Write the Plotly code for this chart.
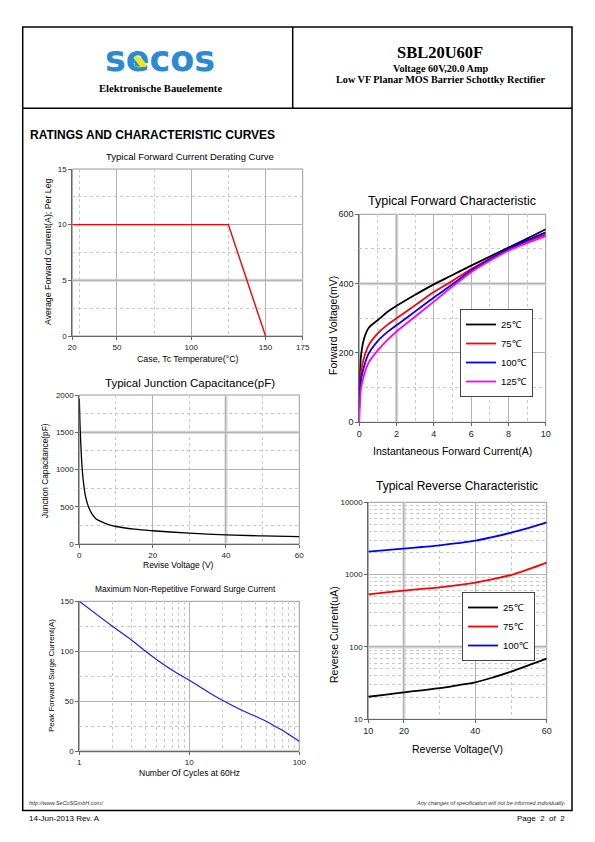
import plotly.graph_objects as go

# page is 595x842; the browser body adds an 8px margin, so the figure is drawn 8px in
OFF = 8
W, H = 595 - OFF, 842 - OFF

# ---------------- data ----------------
derate_temp = [20, 125, 150]
derate_current = [10, 10, 0]

cap_voltage = [0, 0.2, 0.5, 0.8, 1.2, 1.7, 2.5, 3.5, 4.5, 6, 8, 10, 15, 20, 30, 40, 50, 60]
cap_pf = [1950, 1600, 1250, 1000, 800, 640, 500, 400, 340, 300, 260, 235, 200, 178, 145, 122, 108, 98]

surge_cycles = [1, 2, 3, 4, 5, 7, 10, 15, 20, 30, 40, 50, 60, 70, 80, 100]
surge_amps = [150, 125, 111, 100, 92, 81, 71, 59, 51, 41, 35, 30, 25, 21, 17, 10]

fwd_current = [0, 0.05, 0.1, 0.25, 0.5, 1, 1.5, 2, 3, 4, 5, 6, 7, 8, 9, 10]
vf_25 = [90, 160, 195, 240, 272, 295, 318, 336, 368, 398, 425, 452, 478, 504, 530, 557]
vf_75 = [60, 120, 150, 185, 222, 257, 281, 300, 338, 376, 408, 442, 472, 500, 522, 542]
vf_100 = [40, 100, 125, 160, 198, 235, 260, 280, 320, 360, 398, 438, 470, 500, 525, 548]
vf_125 = [0, 75, 100, 135, 172, 208, 237, 262, 305, 348, 392, 433, 466, 495, 517, 537]
fwd_labels = ["25℃", "75℃", "100℃", "125℃"]

rev_voltage = [10, 15, 20, 25, 30, 35, 40, 45, 50, 55, 60]
ir_25 = [20.5, 22, 23.6, 25.2, 26.9, 29.5, 32.5, 38, 45.6, 56, 69]
ir_75 = [535, 568, 601, 634, 668, 715, 775, 870, 988, 1190, 1466]
ir_100 = [2080, 2180, 2290, 2410, 2543, 2720, 2950, 3330, 3800, 4420, 5260]
rev_labels = ["25℃", "75℃", "100℃"]

# ---------------- helpers ----------------
FONT = "Liberation Sans, Arial, sans-serif"
NARROW = "Liberation Sans Narrow, Liberation Sans, Arial, sans-serif"
SERIF = "Liberation Serif, Times New Roman, serif"


def px(x):
    return (x - OFF) / W


def py(y):
    return 1 - (y - OFF) / H


def axis(d0, d1, anchor, tickvals, minorvals, rng, vertical=False, type_="linear", ticktext=None, fs=8):
    if vertical:
        domain = [py(d1), py(d0)]
    else:
        domain = [px(d0), px(d1)]
    a = dict(domain=domain, anchor=anchor, type=type_, range=rng, automargin=False,
             showline=True, linecolor="#666", linewidth=1,
             ticks="outside", ticklen=3, tickcolor="#666",
             tickfont=dict(size=fs, family=FONT, color="#222"),
             tickmode="array", tickvals=tickvals,
             showgrid=True, gridcolor="#b4b4b4", gridwidth=0.8, zeroline=False,
             minor=dict(tickmode="array", tickvals=minorvals, showgrid=True,
                        gridcolor="#c8c8c8", griddash="3px,3px", gridwidth=0.8, ticks=""))
    if ticktext is not None:
        a["ticktext"] = ticktext
    return a


fig = go.Figure()

# chart 1 - derating
fig.add_trace(go.Scatter(x=derate_temp, y=derate_current, mode="lines",
                         line=dict(color="#ff0000", width=1.4), xaxis="x", yaxis="y", showlegend=False))
# chart 2 - capacitance
fig.add_trace(go.Scatter(x=cap_voltage, y=cap_pf, mode="lines", line_shape="spline",
                         line=dict(color="#000000", width=1.3), xaxis="x2", yaxis="y2", showlegend=False))
# chart 3 - surge
fig.add_trace(go.Scatter(x=surge_cycles, y=surge_amps, mode="lines", line_shape="spline",
                         line=dict(color="#1a1aff", width=1.2), xaxis="x3", yaxis="y3", showlegend=False))
# chart 4 - forward
for ys, col, lab in zip([vf_25, vf_75, vf_100, vf_125], ["#000000", "#ff0000", "#0000ff", "#ff00ff"], fwd_labels):
    fig.add_trace(go.Scatter(x=fwd_current, y=ys, mode="lines", line_shape="spline", name=lab,
                             line=dict(color=col, width=1.8), xaxis="x4", yaxis="y4", legend="legend"))
# chart 5 - reverse
for ys, col, lab in zip([ir_25, ir_75, ir_100], ["#000000", "#ff0000", "#0000ff"], rev_labels):
    fig.add_trace(go.Scatter(x=rev_voltage, y=ys, mode="lines", line_shape="spline", name=lab,
                             line=dict(color=col, width=1.8), xaxis="x5", yaxis="y5", legend="legend2"))

# logo text on a full-page hidden axis (page pixel coordinates)
fig.add_trace(go.Scatter(x=[160], y=[62], mode="text", text=["secos"],
                         textfont=dict(family="DejaVu Sans", size=35, color="#2a8ad4", weight="bold"),
                         textposition="middle center", xaxis="x6", yaxis="y6",
                         showlegend=False, hoverinfo="skip"))

dec = lambda lo, hi: [m * 10 ** e for e in range(lo, hi) for m in range(2, 10)]

layout = dict(
    width=W, height=H, margin=dict(l=0, r=0, t=0, b=0, pad=0, autoexpand=False), autosize=False,
    paper_bgcolor="white", plot_bgcolor="rgba(0,0,0,0)",
    font=dict(family=FONT, color="#000"),
    xaxis=axis(72.3, 302.7, "y", [20, 50, 100, 150, 175], [25, 75, 125], [20, 175]),
    yaxis=axis(169, 336, "x", [0, 5, 10, 15], [2.5, 7.5, 12.5], [0, 15], vertical=True),
    xaxis2=axis(79.3, 299.3, "y2", [0, 20, 40, 60], [10, 30, 50], [0, 60]),
    yaxis2=axis(395, 544, "x2", [0, 500, 1000, 1500, 2000], [250, 750, 1250, 1750], [0, 2000], vertical=True),
    xaxis3=axis(79.3, 299.3, "y3", [1, 10, 100], dec(0, 2), [0, 2], type_="log", ticktext=["1", "10", "100"]),
    yaxis3=axis(601.3, 751.3, "x3", [0, 50, 100, 150], [25, 75, 125], [0, 150], vertical=True),
    xaxis4=axis(359.3, 545.7, "y4", [0, 2, 4, 6, 8, 10], [1, 3, 5, 7, 9], [0, 10], fs=9),
    yaxis4=axis(214.3, 422.3, "x4", [0, 200, 400, 600], [100, 300, 500], [0, 600], vertical=True, fs=9),
    xaxis5=axis(368.3, 546.7, "y5", [10, 20, 40, 60], [30, 50], [10, 60], fs=9),
    yaxis5=axis(502.3, 719.3, "x5", [10, 100, 1000, 10000], dec(1, 4), [1, 4], vertical=True, type_="log",
                ticktext=["10", "100", "1000", "10000"], fs=8),
    xaxis6=dict(domain=[0, 1], range=[OFF, OFF + W], visible=False, anchor="y6", fixedrange=True, automargin=False),
    yaxis6=dict(domain=[0, 1], range=[OFF + H, OFF], visible=False, anchor="x6", fixedrange=True, automargin=False),
    legend=dict(x=px(533), y=py(397), xanchor="right", yanchor="bottom", bordercolor="#444", borderwidth=1,
                bgcolor="white", font=dict(size=9.5, family=FONT), itemwidth=30, tracegroupgap=0),
    legend2=dict(x=px(535), y=py(592), xanchor="right", yanchor="top", bordercolor="#444", borderwidth=1,
                 bgcolor="white", font=dict(size=9.5, family=FONT), itemwidth=30, tracegroupgap=0),
)
fig.update_layout(**layout)

shapes = []
# page frame
shapes.append(dict(type="rect", xref="paper", yref="paper", x0=px(22.7), x1=px(572), y0=py(810.5), y1=py(27),
                   line=dict(color="black", width=1.5)))
shapes.append(dict(type="line", xref="paper", yref="paper", x0=px(22.7), x1=px(572), y0=py(108.3), y1=py(108.3),
                   line=dict(color="black", width=1.5)))
shapes.append(dict(type="line", xref="paper", yref="paper", x0=px(292.7), x1=px(292.7), y0=py(108.3), y1=py(27),
                   line=dict(color="black", width=1.5)))
# plot frames
for i in ["", "2", "3", "4", "5"]:
    shapes.append(dict(type="rect", xref="x%s domain" % i, yref="y%s domain" % i, x0=0, x1=1, y0=0, y1=1,
                       line=dict(color="#9a9a9a", width=1), layer="below"))
# emphasised (thick light) grid lines seen in the reference
hl = dict(color="#d2d2d2", width=3)
shapes += [
    dict(type="line", xref="x domain", yref="y", x0=0, x1=1, y0=5, y1=5, line=hl, layer="below"),
    dict(type="line", xref="x2 domain", yref="y2", x0=0, x1=1, y0=1500, y1=1500, line=hl, layer="below"),
    dict(type="line", xref="x2", yref="y2 domain", x0=40, x1=40, y0=0, y1=1, line=hl, layer="below"),
    dict(type="line", xref="x3 domain", yref="y3 domain", x0=0, x1=1, y0=0, y1=0, line=hl, layer="below"),
    dict(type="line", xref="x4 domain", yref="y4", x0=0, x1=1, y0=400, y1=400, line=hl, layer="below"),
    dict(type="line", xref="x4", yref="y4 domain", x0=2, x1=2, y0=0, y1=1, line=hl, layer="below"),
    dict(type="line", xref="x5 domain", yref="y5", x0=0, x1=1, y0=100, y1=100, line=hl, layer="below"),
    dict(type="line", xref="x5", yref="y5 domain", x0=20, x1=20, y0=0, y1=1, line=hl, layer="below"),
]
# logo accent
shapes.append(dict(type="path", xref="x6", yref="y6", layer="above",
                   path="M 134.6 67 L 134.6 56 C 140.8 56 146 61 146 67 Z",
                   fillcolor="#e8e62a", line=dict(width=0)))
shapes.append(dict(type="path", xref="x6", yref="y6", layer="above",
                   path="M 134.6 66.5 L 134.6 59.5 L 140 66.5 Z",
                   fillcolor="#2a8ad4", line=dict(width=0)))
fig.update_layout(shapes=shapes)

ann = []


def text(x, y, s, size, family=FONT, anchor="center", angle=0, bold=False, italic=False, color="#000"):
    if bold:
        s = "<b>%s</b>" % s
    if italic:
        s = "<i>%s</i>" % s
    ann.append(dict(x=px(x), y=py(y), xref="paper", yref="paper", text=s, showarrow=False,
                    xanchor=anchor, yanchor="middle", textangle=angle,
                    font=dict(size=size, family=family, color=color)))


# header
text(160, 88.5, "Elektronische Bauelemente", 10.6, SERIF, bold=True)
text(440, 52.5, "SBL20U60F", 16.5, SERIF, bold=True)
text(440, 68, "Voltage 60V,20.0 Amp", 10.2, SERIF, bold=True)
text(440, 79.5, "Low VF Planar MOS Barrier Schottky Rectifier", 10.2, SERIF, bold=True)
text(28, 135, "RATINGS AND CHARACTERISTIC CURVES", 12, FONT, anchor="left", bold=True)

# chart 1
text(190, 156, "Typical Forward Current Derating Curve", 9.5)
text(48, 252, "Average Forward Current(A); Per Leg", 8.8, angle=-90)
text(188, 359, "Case, Tc Temperature(°C)", 8.8)
# chart 2
text(190, 383, "Typical Junction Capacitance(pF)", 11.5)
text(45, 470, "Junction Capacitance(pF)", 8.3, angle=-90)
text(178, 565, "Revise Voltage (V)", 8.5)
# chart 3
text(185, 588.5, "Maximum Non-Repetitive Forward Surge Current", 8.3)
text(51, 676, "Peak Forward Surge Current(A)", 8, angle=-90)
text(189, 772.5, "Number Of Cycles at 60Hz", 8.5)
# chart 4
text(452, 201, "Typical Forward Characteristic", 12.5, NARROW)
text(333, 326, "Forward Voltage(mV)", 10.5, angle=-90)
text(452, 451, "Instantaneous Forward Current(A)", 10.5, NARROW)
# chart 5
text(457, 486, "Typical Reverse Characteristic", 12, NARROW)
text(334, 635, "Reverse Current(uA)", 10.5, angle=-90)
text(457, 749, "Reverse Voltage(V)", 10.5, NARROW)

# footer
text(27, 803, "http://www.SeCoSGmbH.com/", 5.5, anchor="left", italic=True, color="#333")
text(567, 803, "Any changes of specification will not be informed individually.", 5.5, anchor="right",
     italic=True, color="#333")
text(27, 818, "14-Jun-2013 Rev. A", 8, anchor="left")
text(567, 818, "Page  2  of  2", 8, anchor="right")

fig.update_layout(annotations=ann)
fig.write_html("out.html")
